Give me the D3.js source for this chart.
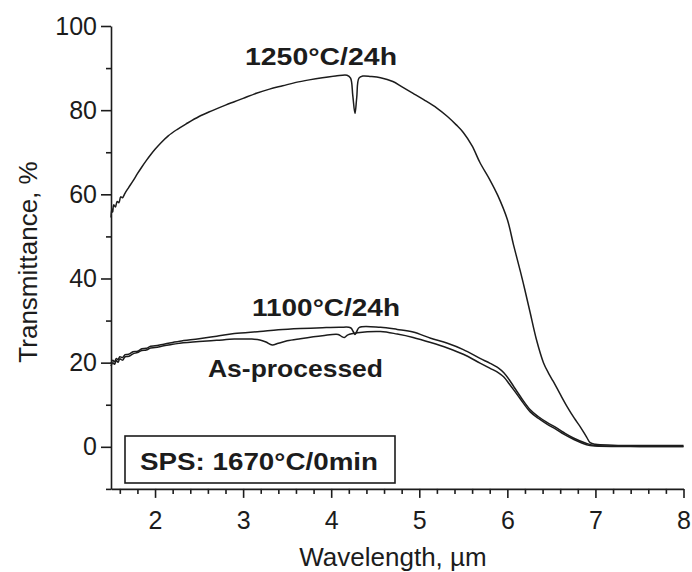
<!DOCTYPE html>
<html><head><meta charset="utf-8">
<script src="https://cdn.jsdelivr.net/npm/d3@7"></script>
<style>body{margin:0;background:#fff} svg{display:block}</style>
</head><body><svg id="c" width="692" height="572"></svg>
<script>
// ---- data ----
const wl1250 = [1.50,1.51,1.52,1.53,1.55,1.57,1.59,1.61,1.63,1.66,1.70,1.75,1.80,1.85,1.90,1.95,2.00,2.06,2.15,2.25,2.35,2.50,2.65,2.80,2.90,3.00,3.15,3.30,3.45,3.60,3.75,3.90,4.05,4.18,4.22,4.245,4.27,4.29,4.315,4.36,4.45,4.56,4.70,4.80,4.93,5.05,5.20,5.32,5.42,5.50,5.60,5.69,5.80,5.89,6.00,6.07,6.15,6.20,6.26,6.33,6.41,6.47,6.52,6.60,6.68,6.76,6.83,6.90,6.94,7.00,7.20,7.50,8.00];
const t1250  = [54.5,56.5,55.8,57.5,57.0,58.3,58.0,59.4,59.2,60.3,61.6,63.2,64.9,66.5,68.0,69.4,70.7,72.1,73.9,75.4,76.7,78.5,79.9,81.2,82.0,82.8,84.0,85.0,85.8,86.6,87.2,87.7,88.1,88.3,87.6,83.5,79.2,83.0,87.6,88.1,88.0,87.7,86.8,85.6,84.0,82.5,80.5,78.5,76.5,74.7,71.5,67.5,63.5,59.8,54.0,48.0,41.5,37.2,31.8,25.5,20.0,17.4,15.6,12.5,9.5,6.8,4.7,2.3,1.0,0.6,0.4,0.3,0.3];

const wl1100 = [1.50,1.52,1.54,1.56,1.58,1.60,1.63,1.66,1.70,1.75,1.80,1.85,1.90,1.95,2.00,2.10,2.20,2.28,2.50,2.70,2.90,3.19,3.40,3.65,3.90,4.10,4.22,4.25,4.27,4.29,4.32,4.56,4.75,4.93,5.13,5.32,5.50,5.69,5.80,5.90,5.96,6.02,6.07,6.15,6.26,6.35,6.45,6.55,6.64,6.75,6.90,7.00,7.50,8.00];
const t1100  = [19.8,20.6,20.2,21.0,20.7,21.4,21.2,21.9,22.0,22.6,22.7,23.3,23.4,23.9,24.0,24.4,24.8,25.1,25.7,26.3,26.9,27.4,27.8,28.1,28.3,28.4,28.3,27.4,26.7,27.4,28.4,28.4,27.9,27.3,25.8,24.6,23.1,21.0,19.9,18.7,17.6,16.0,14.4,11.9,8.8,7.2,5.8,4.6,3.4,2.1,0.8,0.3,0.1,0.1];

const wlAsp = [1.50,1.52,1.54,1.56,1.58,1.60,1.63,1.66,1.70,1.75,1.80,1.85,1.90,1.95,2.00,2.10,2.20,2.28,2.50,2.70,2.90,3.10,3.19,3.26,3.33,3.40,3.50,3.65,3.90,4.08,4.12,4.15,4.19,4.30,4.56,4.75,4.93,5.13,5.32,5.50,5.69,5.80,5.90,5.96,6.02,6.07,6.15,6.26,6.35,6.45,6.55,6.64,6.75,6.90,7.00,7.50,8.00];
const tAsp  = [19.2,20.0,19.6,20.5,20.1,20.9,20.6,21.4,21.5,22.1,22.4,22.9,23.0,23.5,23.6,24.0,24.4,24.6,25.0,25.3,25.6,25.6,25.4,24.9,24.2,24.6,25.2,25.7,26.4,26.7,26.2,26.0,26.6,27.1,27.4,26.8,26.0,24.8,23.5,22.0,19.9,18.7,17.6,16.6,15.0,13.6,11.3,8.3,6.8,5.4,4.2,3.0,1.8,0.5,0.2,0.1,0.1];

const xMajorTicks = [2,3,4,5,6,7,8];
const xMinorTicks = [1.6,1.8,2.2,2.4,2.6,2.8,3.2,3.4,3.6,3.8,4.2,4.4,4.6,4.8,5.2,5.4,5.6,5.8,6.2,6.4,6.6,6.8,7.2,7.4,7.6,7.8];
const yMajorTicks = [0,20,40,60,80,100];
const yMinorTicks = [-10,10,30,50,70,90];
const xTitle = "Wavelength, µm";
const yTitle = "Transmittance, %";
const seriesLabels = ["1250°C/24h","1100°C/24h","As-processed"];
const boxLabel = "SPS: 1670°C/0min";

// ---- drawing ----
const svg = d3.select("#c");
const ink = "#1c1c1c";
const font = "'Liberation Sans', Arial, Helvetica, sans-serif";
const x = d3.scaleLinear().domain([1.5, 8]).range([111, 683.5]);
const y = d3.scaleLinear().domain([-10, 100]).range([488.9, 26]);

// y axis
const gy = svg.append("g").attr("transform", "translate(111,0)");
gy.call(d3.axisLeft(y).tickValues(yMajorTicks).tickSize(10).tickSizeOuter(0).tickPadding(4).tickFormat(d3.format("d")));
gy.append("g").call(d3.axisLeft(y).tickValues(yMinorTicks).tickSize(5).tickFormat("")).select(".domain").remove();
// x axis
const gx = svg.append("g").attr("transform", "translate(0,488.9)");
gx.call(d3.axisBottom(x).tickValues(xMajorTicks).tickSize(9).tickSizeOuter(0).tickPadding(13).tickFormat(d3.format("d")));
gx.append("g").call(d3.axisBottom(x).tickValues(xMinorTicks).tickSize(5).tickFormat("")).select(".domain").remove();

svg.selectAll(".tick line, .domain").attr("stroke", ink).attr("stroke-width", 1.6);
svg.selectAll(".tick text").attr("font-family", font).attr("font-size", 25).attr("fill", ink);

// titles
svg.append("text").attr("transform", "translate(37,262) rotate(-90)")
  .attr("text-anchor", "middle").attr("font-family", font).attr("font-size", 26).attr("fill", ink).text(yTitle);
svg.append("text").attr("x", 393).attr("y", 566)
  .attr("text-anchor", "middle").attr("font-family", font).attr("font-size", 26).attr("fill", ink).text(xTitle);

// curves
const line = d3.line().x(d => x(d[0])).y(d => y(d[1])).curve(d3.curveCatmullRom.alpha(0.5));
const series = [
  d3.zip(wl1250, t1250),
  d3.zip(wl1100, t1100),
  d3.zip(wlAsp, tAsp)
];
svg.append("g").selectAll("path").data(series).join("path")
  .attr("d", line).attr("fill", "none").attr("stroke", ink).attr("stroke-width", 1.5).attr("stroke-linejoin", "round");

// series labels
const labelPos = [[245, 65, 152], [252, 316, 148], [208, 377, 175]];
seriesLabels.forEach((s, i) => {
  svg.append("text").attr("x", labelPos[i][0]).attr("y", labelPos[i][1])
    .attr("font-family", font).attr("font-weight", "bold").attr("font-size", 24).attr("fill", ink)
    .attr("textLength", labelPos[i][2]).attr("lengthAdjust", "spacingAndGlyphs").text(s);
});

// box label
svg.append("rect").attr("x", 125).attr("y", 436).attr("width", 270).attr("height", 47)
  .attr("fill", "none").attr("stroke", ink).attr("stroke-width", 1.6);
svg.append("text").attr("x", 140).attr("y", 470)
  .attr("font-family", font).attr("font-weight", "bold").attr("font-size", 24).attr("fill", ink)
  .attr("textLength", 238).attr("lengthAdjust", "spacingAndGlyphs").text(boxLabel);
</script>
</body></html>
